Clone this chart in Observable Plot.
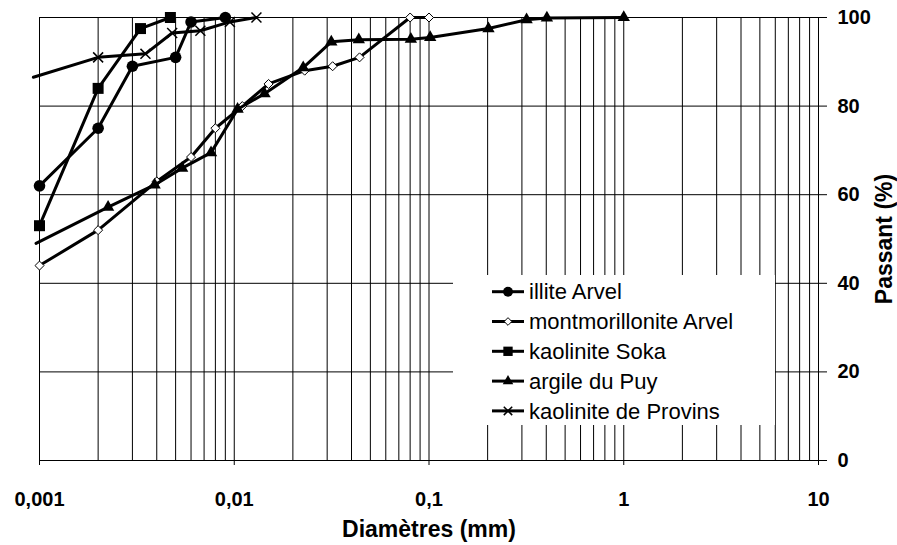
<!DOCTYPE html>
<html><head><meta charset="utf-8">
<script src="https://cdn.jsdelivr.net/npm/d3@7"></script>
<script src="https://cdn.jsdelivr.net/npm/@observablehq/plot@0.6"></script>
<style>
body{margin:0;background:#fff}
#chart{width:897px;height:545px}
</style>
</head><body><div id="chart"></div>
<script>
// ---- data ----
const seriesNames = ["illite Arvel","montmorillonite Arvel","kaolinite Soka","argile du Puy","kaolinite de Provins"];

const illiteD = [0.001,0.002,0.003,0.005,0.006,0.009];
const illiteP = [62,75,89,91,99,100];

const montD = [0.001,0.002,0.004,0.006,0.008,0.011,0.015,0.023,0.032,0.044,0.08,0.1];
const montP = [44,52,63,68.5,75,80,85,88,89,91,100,100];

const sokaD = [0.001,0.002,0.0033,0.0047];
const sokaP = [53,84,97.5,100];

const puyD = [0.00096,0.00225,0.0039,0.0054,0.0076,0.0104,0.0143,0.0226,0.0315,0.0436,0.0807,0.1014,0.202,0.317,0.403,1.0];
const puyP = [49,57.2,62.2,66,69.5,79.3,82.8,88.7,94.5,95,95.1,95.5,97.5,99.5,99.9,100];

const provD = [0.00093,0.002,0.0035,0.0048,0.0067,0.0095,0.013];
const provP = [86.5,91,91.8,96.5,97,99,100];

const xTicks = [0.001,0.01,0.1,1,10];
const xTickLabels = ["0,001","0,01","0,1","1","10"];
const yTicks = [0,20,40,60,80,100];
const xLabel = "Diamètres (mm)";
const yLabel = "Passant (%)";

// ---- symbols ----
const diamond = {draw(ctx, size){ const h = Math.sqrt(size/2); ctx.moveTo(0,-h); ctx.lineTo(h,0); ctx.lineTo(0,h); ctx.lineTo(-h,0); ctx.closePath(); }};
const styles = [
  {symbol:"circle", r:5.8, fill:"#000", stroke:"none", strokeWidth:0},
  {symbol:diamond, r:3.6, fill:"#fff", stroke:"#000", strokeWidth:1},
  {symbol:"square", r:6.2, fill:"#000", stroke:"none", strokeWidth:0},
  {symbol:"triangle", r:4.6, fill:"#000", stroke:"none", strokeWidth:0},
  {symbol:"times", r:4.6, fill:"none", stroke:"#000", strokeWidth:1.5}
];
const seriesD = [illiteD, montD, sokaD, puyD, provD];
const seriesP = [illiteP, montP, sokaP, puyP, provP];
const tables = seriesD.map((ds, i) => ds.map((d, j) => ({series: seriesNames[i], d, p: seriesP[i][j]})));

const gridX = d3.scaleLog().domain([0.001,10]).ticks();

const marks = [
  Plot.ruleX(gridX, {stroke:"#000", strokeWidth:1}),
  Plot.ruleY(yTicks, {stroke:"#000", strokeWidth:1}),
  Plot.axisX({ticks: xTicks, tickFormat: d => xTickLabels[xTicks.indexOf(d)], tickSize:5, tickPadding:26, label:null}),
  Plot.axisY({anchor:"right", ticks: yTicks, tickSize:8, tickPadding:11, label:null}),
  Plot.text([xLabel], {frameAnchor:"bottom", dy:69, lineAnchor:"middle", textAnchor:"middle", fontSize:23, fontWeight:"bold"}),
  Plot.text([yLabel], {frameAnchor:"right", dx:66, rotate:-90, lineAnchor:"middle", textAnchor:"middle", fontSize:23, fontWeight:"bold"})
];
tables.forEach((t, i) => {
  const s = styles[i];
  marks.push(Plot.line(t, {x:"d", y:"p", stroke:"#000", strokeWidth:3, strokeLinejoin:"round"}));
  marks.push(Plot.dot(t.filter(r => r.d >= 0.001), {x:"d", y:"p", symbol:s.symbol, r:s.r, fill:s.fill, stroke:s.stroke, strokeWidth:s.strokeWidth}));
});

const svg = Plot.plot({
  width:897, height:545,
  marginLeft:39, marginRight:79, marginTop:17, marginBottom:85,
  style:{fontFamily:"'Liberation Sans', Arial, sans-serif", fontSize:"20px", fontWeight:"bold", color:"#000", background:"#fff"},
  x:{type:"log", domain:[0.001,10]},
  y:{domain:[0,100]},
  marks
});

// ---- legend ----
const sel = d3.select(svg);
const lg = sel.append("g").attr("text-anchor","start");
lg.append("rect").attr("x",453).attr("y",275).attr("width",322).attr("height",150).attr("fill","#fff");
seriesNames.forEach((name, i) => {
  const cy = 291.7 + i*29.8;
  const s = styles[i];
  lg.append("line").attr("x1",492).attr("x2",524).attr("y1",cy).attr("y2",cy).attr("stroke","#000").attr("stroke-width",3);
  const symType = typeof s.symbol === "string" ? {circle:d3.symbolCircle, square:d3.symbolSquare, triangle:d3.symbolTriangle, times:d3.symbolTimes}[s.symbol] : s.symbol;
  const rr = s.r*0.85;
  lg.append("path").attr("transform",`translate(508,${cy})`).attr("d", d3.symbol(symType, Math.PI*rr*rr)())
    .attr("fill", s.fill).attr("stroke", s.stroke).attr("stroke-width", s.strokeWidth);
  lg.append("text").attr("x",529).attr("y",cy+7.6).attr("text-anchor","start").text(name)
    .attr("font-size",22).attr("font-weight","normal").attr("fill","#000");
});

document.getElementById("chart").appendChild(svg);
</script>
</body></html>
